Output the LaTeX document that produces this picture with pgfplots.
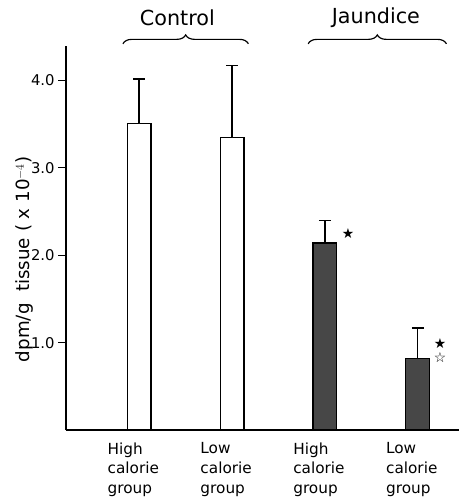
\documentclass[border=0pt]{standalone}
\usepackage{pgfplots}
\pgfplotsset{compat=1.18}
\usepackage{fontspec}
\setmainfont{DejaVu Sans}
\newfontfamily\sym{DejaVu Sans}
\usetikzlibrary{decorations.pathreplacing}
\begin{document}
\begin{tikzpicture}
\begin{axis}[
  scale only axis, width=398pt, height=389pt,
  xmin=-0.79, xmax=3.44, ymin=0, ymax=4.39,
  axis x line=bottom, axis y line=left,
  axis line style={line width=1.6pt, -},
  xtick={0,1,2,3},
  xticklabels={High\\calorie\\group, Low\\calorie\\group, High\\calorie\\group, Low\\calorie\\group},
  x tick style={draw=none},
  xticklabel style={align=left, font=\fontsize{15.5}{20}\selectfont, anchor=north, xshift=-6pt, yshift=-1pt},
  ytick={1,2,3,4}, yticklabels={1.0,2.0,3.0,4.0},
  y tick style={line width=1.2pt, black},
  tick align=outside, major tick length=8pt,
  yticklabel style={font=\fontsize{15}{16}\selectfont},
  ylabel={dpm/g\ \ tissue ( x 10$^{-4}$)},
  ylabel style={font=\fontsize{18.5}{20}\selectfont, at={(axis description cs:-0.105,0.445)}, anchor=center},
  clip=false,
]
\path (rel axis cs:-0.168,-0.165) rectangle (rel axis cs:1.005,1.121);
\addplot[ybar, bar width=24pt, draw=black, fill=white, line width=1.3pt,
  error bars/.cd, y dir=plus, y explicit,
  error bar style={line width=1.6pt},
  error mark options={rotate=90, line width=1.6pt, mark size=6pt}]
  coordinates {(0,3.51) +- (0,0.51) (1,3.35) +- (0,0.82)};
\addplot[ybar, bar width=24pt, draw=black, fill=black!72, line width=1.3pt,
  error bars/.cd, y dir=plus, y explicit,
  error bar style={line width=1.6pt},
  error mark options={rotate=90, line width=1.6pt, mark size=6pt}]
  coordinates {(2,2.14) +- (0,0.26) (3,0.82) +- (0,0.35)};
\addplot[only marks, mark=text, text mark={\sym\fontsize{14}{14}\selectfont ★}]
  coordinates {(2.25,2.25) (3.24,0.99)};
\addplot[only marks, mark=text, text mark={\sym\fontsize{14}{14}\selectfont ☆}]
  coordinates {(3.24,0.83)};
\draw[line width=1.2pt, decorate, decoration={brace, amplitude=9pt}] (axis cs:-0.176,4.42) -- (axis cs:1.176,4.42);
\draw[line width=1.2pt, decorate, decoration={brace, amplitude=9pt}] (axis cs:1.82,4.42) -- (axis cs:3.31,4.42);
\node[font=\fontsize{21}{24}\selectfont] at (axis cs:0.41,4.72) {Control};
\node[font=\fontsize{21}{24}\selectfont] at (axis cs:2.55,4.72) {Jaundice};
\end{axis}
\end{tikzpicture}
\end{document}
